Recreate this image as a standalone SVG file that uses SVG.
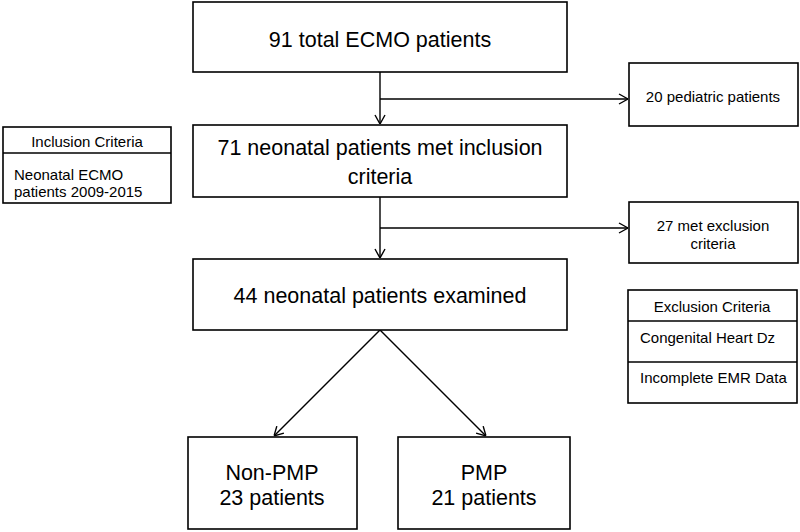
<svg xmlns="http://www.w3.org/2000/svg" width="800" height="532" viewBox="0 0 800 532">
<defs>
<style>
.box{fill:#fff;stroke:#000;stroke-width:1.6}
.ln{fill:none;stroke:#000;stroke-width:1.4}
text{font-family:"Liberation Sans",Arial,sans-serif;fill:#000}
.big{font-size:21.5px;text-anchor:middle}
.sm{font-size:15px}
.smc{font-size:15px;text-anchor:middle}
</style>
<marker id="arr" viewBox="0 0 10 12" refX="10" refY="6" markerWidth="10" markerHeight="12" markerUnits="userSpaceOnUse" orient="auto">
<path d="M1,1 L10,6 L1,11" fill="none" stroke="#000" stroke-width="1.4"/>
</marker>
</defs>
<rect width="800" height="532" fill="#fff"/>
<g id="connectors">
<path class="ln" d="M380,72 V124" marker-end="url(#arr)"/>
<path class="ln" d="M380,99 H628" marker-end="url(#arr)"/>
<path class="ln" d="M380,197 V258" marker-end="url(#arr)"/>
<path class="ln" d="M380,228 H628" marker-end="url(#arr)"/>
<path class="ln" d="M380,330 L274,436" marker-end="url(#arr)"/>
<path class="ln" d="M380,330 L486,436" marker-end="url(#arr)"/>
</g>
<g id="total">
<rect class="box" x="193" y="2" width="374" height="70"/>
<text class="big" x="380" y="47">91 total ECMO patients</text>
</g>
<g id="pediatric">
<rect class="box" x="629" y="63" width="169" height="63"/>
<text class="smc" x="713" y="102">20 pediatric patients</text>
</g>
<g id="neonatal">
<rect class="box" x="193" y="125" width="374" height="72"/>
<text class="big" x="380" y="155">71 neonatal patients met inclusion</text>
<text class="big" x="380" y="184">criteria</text>
</g>
<g id="inclusion">
<rect class="box" x="3" y="127" width="168" height="76"/>
<line class="ln" x1="3" y1="153" x2="171" y2="153"/>
<text class="smc" x="87" y="147">Inclusion Criteria</text>
<text class="sm" x="14" y="180">Neonatal ECMO</text>
<text class="sm" x="14" y="197">patients 2009-2015</text>
</g>
<g id="excluded">
<rect class="box" x="629" y="202" width="169" height="61"/>
<text class="smc" x="713" y="231">27 met exclusion</text>
<text class="smc" x="713" y="249">criteria</text>
</g>
<g id="examined">
<rect class="box" x="193" y="259" width="374" height="71"/>
<text class="big" x="380" y="303">44 neonatal patients examined</text>
</g>
<g id="exclusion">
<rect class="box" x="628" y="290" width="169" height="113"/>
<line class="ln" x1="628" y1="321" x2="797" y2="321"/>
<line class="ln" x1="628" y1="362" x2="797" y2="362"/>
<text class="smc" x="712" y="312">Exclusion Criteria</text>
<text class="sm" x="640" y="343">Congenital Heart Dz</text>
<text class="sm" x="640" y="383">Incomplete EMR Data</text>
</g>
<g id="nonpmp">
<rect class="box" x="188" y="437" width="169" height="92"/>
<text class="big" x="272" y="480">Non-PMP</text>
<text class="big" x="272" y="505">23 patients</text>
</g>
<g id="pmp">
<rect class="box" x="398" y="437" width="172" height="92"/>
<text class="big" x="484" y="480">PMP</text>
<text class="big" x="484" y="505">21 patients</text>
</g>
</svg>
